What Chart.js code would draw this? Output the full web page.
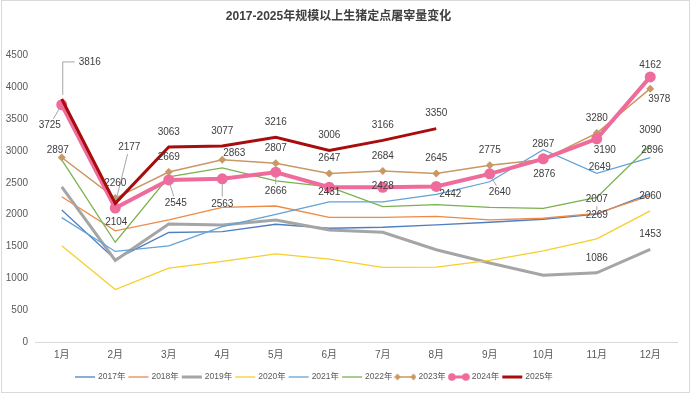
<!DOCTYPE html>
<html>
<head>
<meta charset="utf-8">
<script src="https://cdn.jsdelivr.net/npm/chart.js@4.4.1/dist/chart.umd.min.js"></script>
<style>
  body { margin: 0; background: #fff; }
  canvas { display: block; }
</style>
</head>
<body>
<canvas id="hogChart" width="693" height="395"></canvas>
<script>
const months = ['1月', '2月', '3月', '4月', '5月', '6月', '7月', '8月', '9月', '10月', '11月', '12月'];
const y2017 = [2073, 1297, 1719, 1734, 1849, 1786, 1802, 1839, 1880, 1927, 2007, 2330];
const y2018 = [2281, 1745, 1917, 2115, 2135, 1958, 1958, 1974, 1917, 1943, 2020, 2300];
const y2019 = [2437, 1281, 1854, 1839, 1917, 1760, 1724, 1448, 1240, 1047, 1086, 1453];
const y2020 = [1510, 823, 1161, 1266, 1385, 1302, 1172, 1177, 1281, 1432, 1620, 2060];
const y2021 = [1953, 1422, 1510, 1812, 2005, 2200, 2200, 2318, 2516, 3020, 2649, 2896];
const y2022 = [2860, 1566, 2594, 2734, 2531, 2437, 2125, 2156, 2114, 2099, 2269, 3090];
const y2023 = [2897, 2260, 2669, 2863, 2807, 2647, 2684, 2645, 2775, 2867, 3280, 3978];
const y2024 = [3725, 2104, 2545, 2563, 2666, 2431, 2428, 2442, 2640, 2876, 3190, 4162];
const y2025 = [3816, 2177, 3063, 3077, 3216, 3006, 3166, 3350];
const yTicks = [0, 500, 1000, 1500, 2000, 2500, 3000, 3500, 4000, 4500];

const FONT = '"Liberation Sans", "Noto Sans CJK SC", sans-serif';

// [dataset, point, dx, dy, leader]
const labelSpots = [
    [8, 0, 28, -37, 'elbow'], [8, 1, 14, -56, 'line'], [8, 2, 0, -15], [8, 3, 0, -15],
    [8, 4, 0, -15], [8, 5, 0, -15], [8, 6, 0, -15], [8, 7, 0, -15],
    [7, 0, -12, 20, 'line'], [7, 1, 1, 14], [7, 2, 7, 23, 'line'], [7, 3, 0, 25, 'line'],
    [7, 4, 0, 19, 'line'], [7, 5, 0, 5], [7, 6, 0, -1], [7, 7, 14, 8],
    [7, 8, 10, 18, 'line'], [7, 9, 1, 15], [7, 10, 8, 11], [7, 11, 0, -12],
    [6, 0, -4, -7], [6, 1, 0, -15], [6, 2, 0, -15], [6, 3, 12, -6],
    [6, 4, 0, -15], [6, 5, 0, -15], [6, 6, 0, -15], [6, 7, 0, -15],
    [6, 8, 0, -15], [6, 9, 0, -15], [6, 10, 0, -15], [6, 11, 9, 11],
    [5, 10, 0, 18], [5, 11, 0, -15],
    [4, 10, 3, -6], [4, 11, 2, -7],
    [3, 11, 0, -15],
    [2, 10, 0, -15], [2, 11, 0, -15],
    [0, 10, 0, -15, 'line']
];

function makeLegendIcon(color, width, marker) {
    const c = document.createElement('canvas');
    c.width = 22;
    c.height = 10;
    const g = c.getContext('2d');
    g.strokeStyle = color;
    g.lineWidth = width;
    g.beginPath();
    g.moveTo(1, 5);
    g.lineTo(21, 5);
    g.stroke();
    g.fillStyle = color;
    if (marker === 'diamond') {
        [3, 19].forEach(x => {
            g.beginPath();
            g.moveTo(x, 1.5); g.lineTo(x + 3, 5); g.lineTo(x, 8.5); g.lineTo(x - 3, 5);
            g.closePath();
            g.fill();
        });
    } else if (marker === 'circle') {
        [4, 18].forEach(x => {
            g.beginPath();
            g.arc(x, 5, 3.8, 0, Math.PI * 2);
            g.fill();
        });
    }
    return c;
}

const seriesStyle = [
    ['2017年', y2017, '#4f7fc0', 1.3],
    ['2018年', y2018, '#ed8a45', 1.3],
    ['2019年', y2019, '#a5a5a5', 3],
    ['2020年', y2020, '#f5cf2c', 1.3],
    ['2021年', y2021, '#62a2d8', 1.3],
    ['2022年', y2022, '#79b14e', 1.3],
    ['2023年', y2023, '#c99864', 1.5],
    ['2024年', y2024, '#ef6b9b', 4],
    ['2025年', y2025, '#a80c0c', 3]
];

const datasets = seriesStyle.map(([label, data, color, width], i) => ({
    label: label,
    data: data,
    borderColor: color,
    backgroundColor: color,
    borderWidth: width,
    tension: 0,
    order: 8 - i,
    pointRadius: label === '2023年' ? 4 : label === '2024年' ? 5.5 : 0,
    pointStyle: label === '2023年' ? 'rectRot' : 'circle',
    pointBorderWidth: 0,
    legendIcon: makeLegendIcon(color, Math.min(width, 3), label === '2023年' ? 'diamond' : label === '2024年' ? 'circle' : null)
}));

const valueLabels = {
    id: 'valueLabels',
    afterDatasetsDraw(chart) {
        const ctx = chart.ctx;
        ctx.save();
        ctx.font = '10px ' + FONT;
        ctx.fillStyle = '#404040';
        ctx.textAlign = 'center';
        ctx.textBaseline = 'middle';
        labelSpots.forEach(([ds, i, dx, dy, leader]) => {
            const pt = chart.getDatasetMeta(ds).data[i];
            const value = chart.data.datasets[ds].data[i];
            const tx = pt.x + dx;
            const ty = pt.y + dy;
            if (leader) {
                ctx.strokeStyle = '#a6a6a6';
                ctx.lineWidth = 1;
                ctx.beginPath();
                if (leader === 'elbow') {
                    ctx.moveTo(pt.x + 1, pt.y - 4);
                    ctx.lineTo(pt.x + 1, ty);
                    ctx.lineTo(tx - 15, ty);
                } else {
                    const len = Math.hypot(dx, dy);
                    ctx.moveTo(pt.x + dx * 4 / len, pt.y + dy * 4 / len);
                    ctx.lineTo(tx - dx * 7 / len, ty - dy * 7 / len);
                }
                ctx.stroke();
            }
            ctx.fillText(String(value), tx, ty);
        });
        ctx.restore();
    }
};

// legend drawn by hand so it can sit left of centre like the original
const bottomLegend = {
    id: 'bottomLegend',
    afterDraw(chart) {
        const ctx = chart.ctx;
        ctx.save();
        ctx.font = '8.5px ' + FONT;
        ctx.fillStyle = '#595959';
        ctx.textBaseline = 'middle';
        let x = 74;
        const y = 377;
        chart.data.datasets.forEach(d => {
            ctx.drawImage(d.legendIcon, x, y - 5);
            x += 24;
            ctx.fillText(d.label, x, y);
            x += ctx.measureText(d.label).width + 2;
        });
        ctx.restore();
    }
};

const frame = {
    id: 'frame',
    beforeDraw(chart) {
        const ctx = chart.ctx;
        ctx.save();
        ctx.fillStyle = '#fff';
        ctx.fillRect(0, 0, chart.width, chart.height);
        ctx.strokeStyle = '#d9d9d9';
        ctx.lineWidth = 1;
        ctx.strokeRect(1.5, 0.5, 688, 392);
        ctx.restore();
    }
};

new Chart(document.getElementById('hogChart'), {
    type: 'line',
    data: { labels: months, datasets: datasets },
    plugins: [frame, valueLabels, bottomLegend],
    options: {
        responsive: false,
        animation: false,
        layout: { padding: { left: 0, right: 16, top: 0, bottom: 27 } },
        plugins: {
            title: {
                display: true,
                text: '2017-2025年规模以上生猪定点屠宰量变化',
                color: '#404040',
                font: { family: FONT, size: 12, weight: 'bold' },
                padding: { top: 9, bottom: 32 }
            },
            legend: { display: false },
            tooltip: { enabled: false }
        },
        scales: {
            x: {
                offset: true,
                grid: { display: false, drawTicks: false },
                border: { display: true, color: '#d9d9d9' },
                ticks: { color: '#595959', font: { family: FONT, size: 10 }, padding: 7 }
            },
            y: {
                min: 0,
                max: 4500,
                afterBuildTicks: scale => { scale.ticks = yTicks.map(v => ({ value: v })); },
                afterFit: scale => { scale.width = 35; },
                grid: { display: false, drawTicks: false },
                border: { display: false },
                ticks: {
                    color: '#595959',
                    font: { family: FONT, size: 10 },
                    padding: 7,
                    callback: value => String(value)
                }
            }
        }
    }
});
</script>
</body>
</html>
